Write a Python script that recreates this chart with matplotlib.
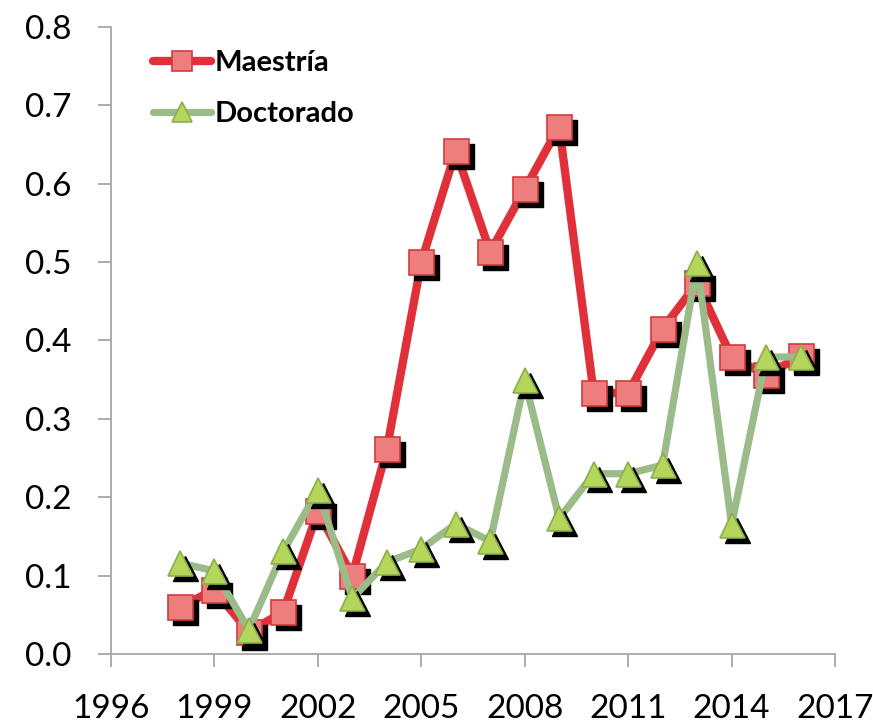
import matplotlib
matplotlib.use("Agg")
import matplotlib.pyplot as plt
from matplotlib.transforms import offset_copy

plt.rcParams['font.family'] = ['Lato', 'DejaVu Sans']

years = list(range(1998, 2017))
maestria = [0.06, 0.082, 0.028, 0.054, 0.182, 0.100, 0.261, 0.500, 0.642, 0.513,
            0.593, 0.673, 0.333, 0.333, 0.415, 0.473, 0.379, 0.356, 0.380]
doctorado = [0.116, 0.106, 0.031, 0.131, 0.209, 0.071, 0.117, 0.134, 0.166, 0.144,
             0.349, 0.173, 0.230, 0.230, 0.241, 0.499, 0.165, 0.379, 0.379]

xticks = list(range(1996, 2018, 3))
yticks = [0.0, 0.1, 0.2, 0.3, 0.4, 0.5, 0.6, 0.7, 0.8]

fig = plt.figure(figsize=(8.73, 7.25), dpi=100)
ax = fig.add_axes([0.1271, 0.0979, 0.8294, 0.8649])

shadow = offset_copy(ax.transData, fig=fig, x=5, y=-5, units='dots')

series = [
    ('Maestría', maestria, 's', '#e0313a', '#ee7e7e', '#d23b3b', 6.0),
    ('Doctorado', doctorado, '^', '#9bbb89', '#b4d65a', '#8cae4e', 5.2),
]
for label, vals, mk, lc, fc, ec, lw in series:
    ax.plot(years, vals, color=lc, lw=lw, solid_capstyle='round',
            solid_joinstyle='round', zorder=2)
    ax.plot(years, vals, ls='none', marker=mk, ms=18, color='black',
            mec='black', transform=shadow, zorder=2)
    ax.plot(years, vals, ls='none', marker=mk, ms=18, mfc=fc, mec=ec,
            mew=1.2, zorder=2)
    # legend proxy
    ax.plot([], [], color=lc, lw=lw, marker=mk, ms=15, mfc=fc, mec=ec,
            mew=1.2, solid_capstyle='round', label=label)

ax.set_xlim(1996, 2017)
ax.set_ylim(0, 0.8)
ax.set_xticks(xticks)
ax.set_yticks(yticks)
ax.set_yticklabels([f'{v:.1f}' for v in yticks])

for s in ['top', 'right']:
    ax.spines[s].set_visible(False)
for s in ['left', 'bottom']:
    ax.spines[s].set_color('#a6a6a6')
    ax.spines[s].set_linewidth(1.3)
ax.tick_params(axis='both', direction='out', length=9.5, width=1.3,
               color='#a6a6a6', labelsize=24, pad=19)

leg = ax.legend(loc='upper left', bbox_to_anchor=(0.058, 0.963), frameon=False,
                prop={'weight': 'bold', 'size': 21}, handlelength=2.0,
                handletextpad=0.1, labelspacing=0.85, borderpad=0,
                borderaxespad=0)

fig.savefig('out.png', dpi=100)
